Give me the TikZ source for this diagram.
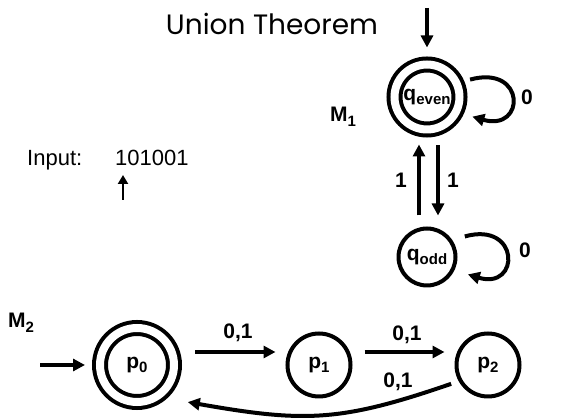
\documentclass[tikz,border=0pt]{standalone}
\usepackage{fontspec}
\setmainfont{Liberation Sans}
\newfontfamily\titlefont{Poppins}
\usetikzlibrary{arrows.meta}

\newcommand{\stsub}[1]{\raisebox{-4.5pt}{\fontsize{15}{15}\selectfont #1}}

\tikzset{
  stnode/.style={circle, draw, line width=4pt, inner sep=0pt, outer sep=2pt,
    minimum size=63pt, font=\bfseries\fontsize{21}{25}\selectfont},
  acc/.style={stnode, double, double distance=8pt, outer sep=8pt},
  lbl/.style={inner sep=0pt, font=\bfseries\fontsize{21}{25}\selectfont},
  arr/.style={line width=4pt, -{Triangle[length=12pt,width=12pt]}},
}

\begin{document}
\begin{tikzpicture}[x=1pt,y=1pt]
\useasboundingbox (0,0) rectangle (563,420);
% title and tape
\node[anchor=base, inner sep=0pt, font=\titlefont\fontsize{28}{32}\selectfont] (title) at (272,385) {Union Theorem};
\node[anchor=base west, inner sep=0pt, font=\fontsize{22}{26}\selectfont] (inp) at (27,254) {Input:};
\node[anchor=base west, inner sep=0pt, font=\fontsize{22}{26}\selectfont] (tape) at (115,254) {101001};
\coordinate (head0) at (123,220);
\coordinate (head1) at (123,245);
\draw[line width=2.8pt, -{Triangle[length=9pt,width=10pt]}] (head0) -- (head1);

% machine M1
\node[acc, minimum size=65pt] (qeven) at (427,323) {q\stsub{even}};
\node[stnode, minimum size=57pt] (qodd) at (427,163) {q\stsub{odd}};
\node[lbl, anchor=base west] (m1) at (330,298) {M\stsub{1}};
\coordinate (qin) at (427,412);
\draw[arr, shorten >=9pt] (qin) -- (qeven);
\draw[arr, shorten <=11pt, shorten >=7pt] ([xshift=-8pt]qodd.north) -- ([xshift=-8pt]qeven.south);
\draw[arr, shorten <=8pt, shorten >=11pt] ([xshift=11pt]qeven.south) -- ([xshift=11pt]qodd.north);
\node[lbl] (l1a) at (401,240) {1};
\node[lbl] (l1b) at (453,240) {1};
\draw[arr, shorten <=6pt, shorten >=9pt] (qeven.23) .. controls +(62,17) and +(62,-18) .. (qeven.-25);
\node[lbl] (l0a) at (527,323) {0};
\draw[arr, shorten <=13pt, shorten >=14pt] (qodd.34) .. controls +(68,19) and +(66,-20) .. (qodd.-26);
\node[lbl] (l0b) at (525,170) {0};

% machine M2
\node[acc, minimum size=74pt] (p0) at (137,55) {p\stsub{0}};
\node[stnode] (p1) at (319,55) {p\stsub{1}};
\node[stnode] (p2) at (488,55) {p\stsub{2}};
\node[lbl, anchor=base west] (m2) at (8,92) {M\stsub{2}};
\coordinate (pin) at (40,55);
\draw[arr, shorten >=7pt] (pin) -- (p0);
\draw[arr, shorten <=13pt, shorten >=10pt] ([yshift=13pt]p0.east) -- ([yshift=13pt]p1.west);
\draw[arr, shorten <=12pt, shorten >=10pt] ([yshift=13pt]p1.east) -- ([yshift=13pt]p2.west);
\draw[arr, shorten <=8pt, shorten >=21pt] (p2.209) .. controls +(199:125) and +(-10:140) .. (p0.-48);
\node[lbl] (la) at (238,87) {0,1};
\node[lbl] (lb) at (407,85) {0,1};
\node[lbl] (lc) at (398,38) {0,1};
\end{tikzpicture}
\end{document}
